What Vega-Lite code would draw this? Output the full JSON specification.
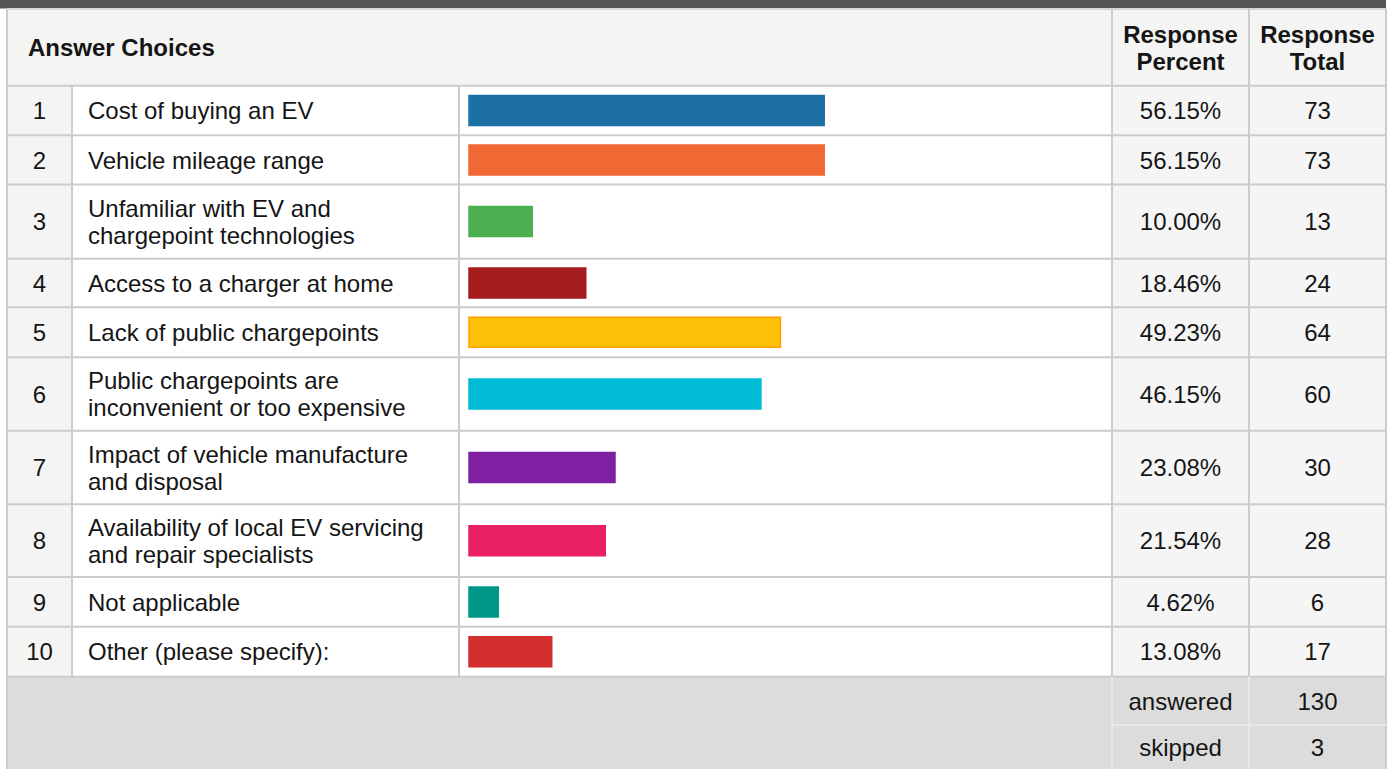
{
  "$schema": "https://vega.github.io/schema/vega-lite/v6.json",
  "width": 1394,
  "height": 769,
  "autosize": {"type": "fit", "contains": "padding"},
  "padding": 0,
  "background": "white",
  "config": {
    "view": {"stroke": null},
    "text": {"font": "Liberation Sans", "fontSize": 24, "color": "#151515", "baseline": "middle", "dy": 1.5}
  },
  "datasets": {
    "choices": [
      {"n": 1, "label": "Cost of buying an EV", "pct": 0.5615, "total": 73},
      {"n": 2, "label": "Vehicle mileage range", "pct": 0.5615, "total": 73},
      {"n": 3, "label": ["Unfamiliar with EV and", "chargepoint technologies"], "pct": 0.10, "total": 13},
      {"n": 4, "label": "Access to a charger at home", "pct": 0.1846, "total": 24},
      {"n": 5, "label": "Lack of public chargepoints", "pct": 0.4923, "total": 64},
      {"n": 6, "label": ["Public chargepoints are", "inconvenient or too expensive"], "pct": 0.4615, "total": 60},
      {"n": 7, "label": ["Impact of vehicle manufacture", "and disposal"], "pct": 0.2308, "total": 30},
      {"n": 8, "label": ["Availability of local EV servicing", "and repair specialists"], "pct": 0.2154, "total": 28},
      {"n": 9, "label": "Not applicable", "pct": 0.0462, "total": 6},
      {"n": 10, "label": "Other (please specify):", "pct": 0.1308, "total": 17}
    ],
    "summary": [
      {"n": 11, "label": "answered", "total": 130},
      {"n": 12, "label": "skipped", "total": 3}
    ]
  },
  "resolve": {"scale": {"y": "independent"}},
  "layer": [
    {
      "layer": [
        {"data": {"values": [{}]}, "mark": {"type": "rect", "color": "#555555"},
         "encoding": {"x": {"value": 0}, "x2": {"value": 1386}, "y": {"value": 0}, "y2": {"value": 8.5}}},
        {"data": {"values": [{}]}, "mark": {"type": "rect", "color": "#f4f4f2"},
         "encoding": {"x": {"value": 7}, "x2": {"value": 1386}, "y": {"value": 8.5}, "y2": {"value": 85.7}}},
        {"data": {"values": [{}]}, "mark": {"type": "rect", "color": "#f4f4f2"},
         "encoding": {"x": {"value": 7}, "x2": {"value": 72}, "y": {"value": 85.7}, "y2": {"value": 676.7}}},
        {"data": {"values": [{}]}, "mark": {"type": "rect", "color": "#f5f5f5"},
         "encoding": {"x": {"value": 1112}, "x2": {"value": 1386}, "y": {"value": 85.7}, "y2": {"value": 676.7}}},
        {"data": {"values": [{}]}, "mark": {"type": "rect", "color": "#dcdcdc"},
         "encoding": {"x": {"value": 7}, "x2": {"value": 1386}, "y": {"value": 676.7}, "y2": {"value": 769}}},
        {"data": {"values": [{}]}, "mark": {"type": "rule", "color": "#d6d6d6", "strokeWidth": 2},
         "encoding": {"x": {"value": 7}, "x2": {"value": 1386}, "y": {"value": 9}}},
        {"data": {"values": [{}]}, "mark": {"type": "rule", "color": "#cccccc", "strokeWidth": 2},
         "encoding": {"x": {"value": 7}, "x2": {"value": 1386}, "y": {"value": 85.7}}},
        {"data": {"name": "choices"}, "mark": {"type": "rule", "color": "#cccccc", "strokeWidth": 2},
         "encoding": {"x": {"value": 7}, "x2": {"value": 1386},
                      "y": {"field": "n", "type": "quantitative", "axis": null,
                            "scale": {"domain": [1,2,3,4,5,6,7,8,9,10], "range": [135.3,184.5,258.7,307.3,357.3,430.7,504.3,577,626.7,676.7], "nice": false, "zero": false, "padding": 0}}}},
        {"data": {"values": [{}]}, "mark": {"type": "rule", "color": "#cccccc", "strokeWidth": 2},
         "encoding": {"x": {"value": 7}, "y": {"value": 8.5}, "y2": {"value": 769}}},
        {"data": {"values": [{}]}, "mark": {"type": "rule", "color": "#cccccc", "strokeWidth": 2},
         "encoding": {"x": {"value": 1386}, "y": {"value": 8.5}, "y2": {"value": 769}}},
        {"data": {"values": [{}]}, "mark": {"type": "rule", "color": "#cccccc", "strokeWidth": 2},
         "encoding": {"x": {"value": 72}, "y": {"value": 85.7}, "y2": {"value": 676.7}}},
        {"data": {"values": [{}]}, "mark": {"type": "rule", "color": "#cccccc", "strokeWidth": 2},
         "encoding": {"x": {"value": 459}, "y": {"value": 85.7}, "y2": {"value": 676.7}}},
        {"data": {"values": [{}]}, "mark": {"type": "rule", "color": "#cccccc", "strokeWidth": 2},
         "encoding": {"x": {"value": 1112}, "y": {"value": 8.5}, "y2": {"value": 676.7}}},
        {"data": {"values": [{}]}, "mark": {"type": "rule", "color": "#cccccc", "strokeWidth": 2},
         "encoding": {"x": {"value": 1249}, "y": {"value": 8.5}, "y2": {"value": 676.7}}},
        {"data": {"values": [{}]}, "mark": {"type": "rule", "color": "#e8e8e8", "strokeWidth": 2},
         "encoding": {"x": {"value": 1112}, "y": {"value": 676.7}, "y2": {"value": 769}}},
        {"data": {"values": [{}]}, "mark": {"type": "rule", "color": "#e8e8e8", "strokeWidth": 2},
         "encoding": {"x": {"value": 1249}, "y": {"value": 676.7}, "y2": {"value": 769}}},
        {"data": {"values": [{}]}, "mark": {"type": "rule", "color": "#e8e8e8", "strokeWidth": 2},
         "encoding": {"x": {"value": 1112}, "x2": {"value": 1386}, "y": {"value": 725}}}
      ]
    },
    {
      "layer": [
        {"data": {"name": "choices"}, "mark": {"type": "text", "align": "center"},
         "encoding": {"x": {"value": 39.5},
                      "y": {"field": "n", "type": "quantitative", "axis": null,
                            "scale": {"domain": [0,1,2,3,4,5,6,7,8,9,10,11,12], "range": [47.5,110.5,160,221.6,283,332.3,394,467.5,540.7,602,651.7,701,747.5], "nice": false, "zero": false, "padding": 0}},
                      "text": {"field": "n", "type": "nominal"}}},
        {"data": {"name": "choices"}, "transform": [{"filter": "!isArray(datum.label)"}],
         "mark": {"type": "text", "align": "left"},
         "encoding": {"x": {"value": 88}, "y": {"field": "n", "type": "quantitative"}, "text": {"field": "label", "type": "nominal"}}},
        {"data": {"name": "choices"}, "transform": [{"filter": "isArray(datum.label)"}],
         "mark": {"type": "text", "align": "left", "lineHeight": 27, "dy": -12},
         "encoding": {"x": {"value": 88}, "y": {"field": "n", "type": "quantitative"}, "text": {"field": "label", "type": "nominal"}}},
        {"data": {"name": "choices"}, "mark": {"type": "text", "align": "center"},
         "encoding": {"x": {"value": 1180.5}, "y": {"field": "n", "type": "quantitative"}, "text": {"field": "pct", "type": "quantitative", "format": ".2%"}}},
        {"data": {"name": "choices"}, "mark": {"type": "text", "align": "center"},
         "encoding": {"x": {"value": 1317.5}, "y": {"field": "n", "type": "quantitative"}, "text": {"field": "total", "type": "nominal"}}},
        {"data": {"values": [{}]}, "mark": {"type": "text", "align": "left", "fontWeight": "bold"},
         "encoding": {"x": {"value": 28}, "y": {"datum": 0, "type": "quantitative"}, "text": {"value": "Answer Choices"}}},
        {"data": {"values": [{}]}, "mark": {"type": "text", "align": "center", "fontWeight": "bold", "lineHeight": 27, "dy": -12},
         "encoding": {"x": {"value": 1180.5}, "y": {"datum": 0, "type": "quantitative"}, "text": {"value": ["Response", "Percent"]}}},
        {"data": {"values": [{}]}, "mark": {"type": "text", "align": "center", "fontWeight": "bold", "lineHeight": 27, "dy": -12},
         "encoding": {"x": {"value": 1317.5}, "y": {"datum": 0, "type": "quantitative"}, "text": {"value": ["Response", "Total"]}}},
        {"data": {"name": "summary"}, "mark": {"type": "text", "align": "center"},
         "encoding": {"x": {"value": 1180.5}, "y": {"field": "n", "type": "quantitative"}, "text": {"field": "label", "type": "nominal"}}},
        {"data": {"name": "summary"}, "mark": {"type": "text", "align": "center"},
         "encoding": {"x": {"value": 1317.5}, "y": {"field": "n", "type": "quantitative"}, "text": {"field": "total", "type": "nominal"}}},
        {"data": {"name": "choices"},
         "mark": {"type": "bar", "orient": "horizontal", "strokeWidth": 1.5},
         "encoding": {
           "x": {"field": "pct", "type": "quantitative", "axis": null, "scale": {"domain": [0, 1], "range": [469, 1101.6], "nice": false, "zero": true, "padding": 0}},
           "y": {"field": "n", "type": "quantitative"},
           "size": {"value": 30},
           "color": {"field": "n", "type": "nominal", "legend": null,
                     "scale": {"domain": [1,2,3,4,5,6,7,8,9,10], "range": ["#1d70a6", "#f06833", "#4caf50", "#a51c1e", "#ffc107", "#00bcd4", "#7f1fa2", "#e91e63", "#009688", "#d32f2f"]}},
           "stroke": {"field": "n", "type": "nominal", "legend": null,
                      "scale": {"domain": [1,2,3,4,5,6,7,8,9,10], "range": ["#1d70a6", "#f06833", "#4caf50", "#a51c1e", "#ffa000", "#00bcd4", "#7f1fa2", "#e91e63", "#009688", "#d32f2f"]}}
         }}
      ]
    }
  ]
}
